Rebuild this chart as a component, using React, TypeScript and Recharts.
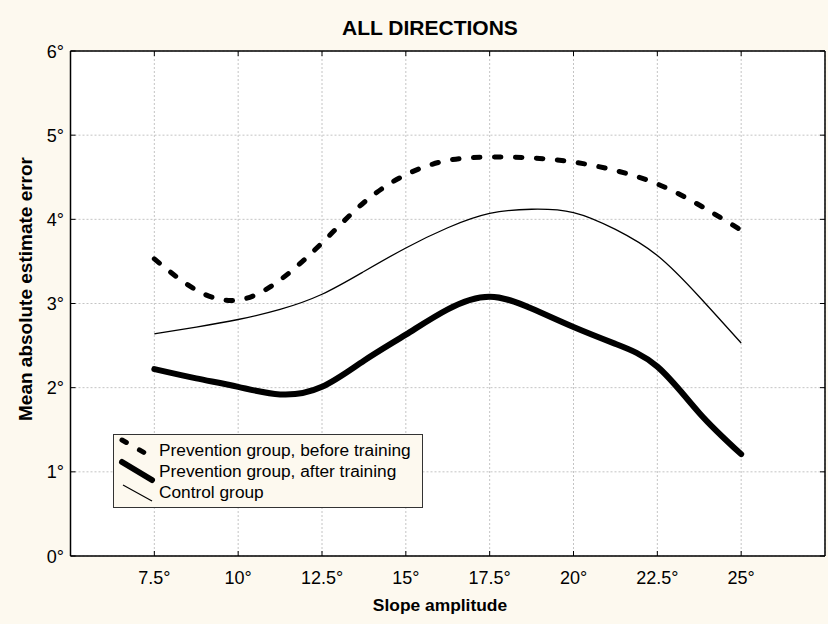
import React from 'react';
import { LineChart, Line, XAxis, YAxis, CartesianGrid, Legend, ReferenceLine } from 'recharts';

const slopes = [7.5, 8.75, 10, 11.25, 12.5, 13.75, 15, 16.25, 17.5, 18.75, 20, 21.25, 22.5, 23.75, 25];
const beforeTraining = [3.53, 3.16, 3.04, 3.28, 3.72, 4.2, 4.53, 4.7, 4.74, 4.73, 4.68, 4.58, 4.42, 4.17, 3.87];
const afterTraining = [2.22, 2.11, 2.01, 1.92, 2.01, 2.32, 2.63, 2.93, 3.08, 2.94, 2.72, 2.52, 2.25, 1.7, 1.21];
const controlGroup = [2.64, 2.72, 2.81, 2.93, 3.11, 3.38, 3.66, 3.9, 4.07, 4.12, 4.08, 3.88, 3.57, 3.08, 2.53];

const xTicks = [7.5, 10, 12.5, 15, 17.5, 20, 22.5, 25];
const yTicks = [0, 1, 2, 3, 4, 5, 6];
const seriesNames = [
  'Prevention group, before training',
  'Prevention group, after training',
  'Control group',
];

const data = slopes.map((slope, i) => ({
  slope,
  before: beforeTraining[i],
  after: afterTraining[i],
  control: controlGroup[i],
}));

const FONT = '"Liberation Sans", Arial, Helvetica, sans-serif';
const BG = '#fdf9ef';
const deg = (v: number) => `${v}°`;

// plot frame, follows from the chart margins below
const P = { left: 70.5, right: 825, top: 51, bottom: 556 };
const TICK = 5;

function XTick({ x, payload }: any) {
  return (
    <g>
      <line x1={x} y1={P.bottom} x2={x} y2={P.bottom - TICK} stroke="#000" />
      <line x1={x} y1={P.top} x2={x} y2={P.top + TICK} stroke="#000" />
      <text x={x} y={P.bottom + 28} textAnchor="middle" fontSize={18} fontFamily={FONT} fill="#000">
        {deg(payload.value)}
      </text>
    </g>
  );
}

function YTick({ y, payload }: any) {
  return (
    <g>
      <line x1={P.left} y1={y} x2={P.left + TICK} y2={y} stroke="#000" />
      <line x1={P.right} y1={y} x2={P.right - TICK} y2={y} stroke="#000" />
      <text x={64} y={y + 6.5} textAnchor="end" fontSize={18} fontFamily={FONT} fill="#000">
        {deg(payload.value)}
      </text>
    </g>
  );
}

function LegendBox() {
  return (
    <svg width={310} height={74} style={{ display: 'block' }}>
      <rect x={0.5} y={0.5} width={309} height={73} fill={BG} stroke="#333" strokeWidth={1} />
      <line x1={9} y1={6} x2={39} y2={23} stroke="#000" strokeWidth={5} strokeDasharray="5 15" strokeLinecap="round" />
      <line x1={9} y1={28} x2={39} y2={46} stroke="#000" strokeWidth={6} strokeLinecap="round" />
      <line x1={10} y1={51} x2={39} y2={67} stroke="#000" strokeWidth={1.2} />
      {seriesNames.map((name, i) => (
        <text key={name} x={46} y={21.5 + i * 21} fontSize={17.3} fontFamily={FONT} fill="#000">
          {name}
        </text>
      ))}
    </svg>
  );
}

export default function App() {
  return (
    <div style={{ position: 'absolute', left: 0, top: 0, width: 828, height: 624, background: BG }}>
      <LineChart width={828} height={624} data={data} margin={{ top: 51, right: 3, bottom: 38, left: 10.5 }}>
        <CartesianGrid stroke="#c4c4c4" strokeDasharray="2 2" fill="#fff" fillOpacity={1} />
        <XAxis
          dataKey="slope"
          type="number"
          domain={[5, 27.5]}
          ticks={xTicks}
          allowDataOverflow
          tickLine={false}
          tickSize={0}
          height={30}
          axisLine={{ stroke: '#000', strokeWidth: 1.5 }}
          tick={<XTick />}
        />
        <YAxis
          type="number"
          domain={[0, 6]}
          ticks={yTicks}
          allowDataOverflow
          width={60}
          tickLine={false}
          tickSize={0}
          axisLine={{ stroke: '#000', strokeWidth: 1.5 }}
          tick={<YTick />}
        />
        <ReferenceLine y={6} stroke="#000" strokeWidth={1.5} />
        <ReferenceLine x={27.5} stroke="#000" strokeWidth={1.5} />
        <Line
          type="natural"
          dataKey="before"
          name={seriesNames[0]}
          stroke="#000"
          strokeWidth={5}
          strokeDasharray="6.5 14.5"
          strokeLinecap="round"
          dot={false}
          isAnimationActive={false}
        />
        <Line
          type="natural"
          dataKey="after"
          name={seriesNames[1]}
          stroke="#000"
          strokeWidth={6}
          strokeLinecap="round"
          dot={false}
          isAnimationActive={false}
        />
        <Line
          type="natural"
          dataKey="control"
          name={seriesNames[2]}
          stroke="#000"
          strokeWidth={1.3}
          dot={false}
          isAnimationActive={false}
        />
        <Legend
          layout="horizontal"
          verticalAlign="middle"
          align="center"
          content={() => <LegendBox />}
          wrapperStyle={{ left: 113, top: 434, width: 310, height: 74 }}
        />
      </LineChart>
      <svg
        width={828}
        height={624}
        style={{ position: 'absolute', left: 0, top: 0, pointerEvents: 'none' }}
      >
        <text x={430} y={35} textAnchor="middle" fontSize={21} fontWeight="bold" fontFamily={FONT}>
          ALL DIRECTIONS
        </text>
        <text x={440} y={611} textAnchor="middle" fontSize={17.4} fontWeight="bold" fontFamily={FONT}>
          Slope amplitude
        </text>
        <text
          x={0}
          y={0}
          transform="translate(32 289) rotate(-90)"
          textAnchor="middle"
          fontSize={19}
          fontWeight="bold"
          fontFamily={FONT}
        >
          Mean absolute estimate error
        </text>
      </svg>
    </div>
  );
}
